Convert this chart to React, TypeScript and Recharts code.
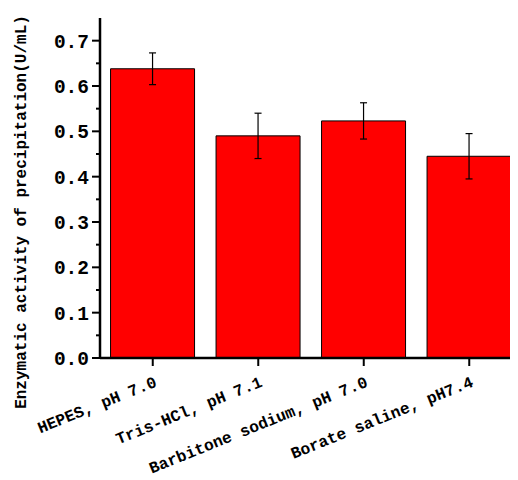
import { BarChart, Bar, XAxis, YAxis, ErrorBar } from "recharts";

const buffers = ["HEPES, pH 7.0", "Tris-HCl, pH 7.1", "Barbitone sodium, pH 7.0", "Borate saline, pH7.4"];
const activity = [0.638, 0.49, 0.523, 0.445];
const errors = [0.035, 0.05, 0.04, 0.05];
const yTicks = [0, 0.05, 0.1, 0.15, 0.2, 0.25, 0.3, 0.35, 0.4, 0.45, 0.5, 0.55, 0.6, 0.65, 0.7, 0.75];
const majorTicks = [0, 0.1, 0.2, 0.3, 0.4, 0.5, 0.6, 0.7];

const data = buffers.map((name, i) => ({ name, value: activity[i], err: errors[i] }));

const FONT = "'Liberation Mono', 'DejaVu Sans Mono', monospace";

function YTick({ x, y, payload }: any) {
  const v = payload.value;
  const major = majorTicks.some((m) => Math.abs(m - v) < 1e-6);
  if (v > 0.72) return null;
  return (
    <g>
      <line x1={x - (major ? 8 : 4)} x2={x} y1={y} y2={y} stroke="#000" strokeWidth={2} />
      {major && (
        <text x={x - 11} y={y} dy="0.36em" textAnchor="end" fontFamily={FONT} fontWeight="bold" fontSize={19.5} fill="#000">
          {v.toFixed(1)}
        </text>
      )}
    </g>
  );
}

function XTick({ x, y, payload }: any) {
  const ax = x + 5;
  const ay = y + 28;
  return (
    <g>
      <line x1={x} x2={x} y1={y} y2={y + 8} stroke="#000" strokeWidth={2} />
      <text
        x={ax}
        y={ay}
        textAnchor="end"
        transform={`rotate(-22, ${ax}, ${ay})`}
        fontFamily={FONT}
        fontSize={16.25}
        fontWeight="bold"
        fill="#000"
      >
        {payload.value}
      </text>
    </g>
  );
}

export default function App() {
  return (
    <div style={{ width: 510, height: 472, overflow: "hidden" }}>
      <BarChart
        width={520}
        height={472}
        data={data}
        margin={{ top: 10, right: 6, bottom: 12, left: 0 }}
        barCategoryGap="10%"
      >
        <XAxis
          dataKey="name"
          height={110}
          interval={0}
          tickSize={0}
          tickMargin={0}
          tickLine={false}
          axisLine={{ stroke: "#000", strokeWidth: 2.5 }}
          tick={<XTick />}
        />
        <XAxis xAxisId="top" orientation="top" dataKey="name" height={0} tick={false} tickLine={false} axisLine={{ stroke: "#000", strokeWidth: 2 }} />
        <YAxis
          width={92}
          domain={[0, 0.75]}
          ticks={yTicks}
          interval={0}
          tickSize={0}
          tickMargin={0}
          tickLine={false}
          axisLine={{ stroke: "#000", strokeWidth: 2.5 }}
          tick={<YTick />}
          label={{
            content: () => (
              <text
                x={14}
                y={204}
                textAnchor="middle"
                dominantBaseline="central"
                transform="rotate(-90, 14, 204)"
                fontFamily={FONT}
                fontWeight="bold"
                fontSize={16}
                fill="#000"
              >
                Enzymatic activity of precipitation(U/mL)
              </text>
            ),
          }}
        />
        <Bar dataKey="value" fill="#ff0000" stroke="#000" strokeWidth={1} isAnimationActive={false}>
          <ErrorBar dataKey="err" width={3.5} stroke="#000" strokeWidth={1.2} isAnimationActive={false} />
        </Bar>
      </BarChart>
    </div>
  );
}
